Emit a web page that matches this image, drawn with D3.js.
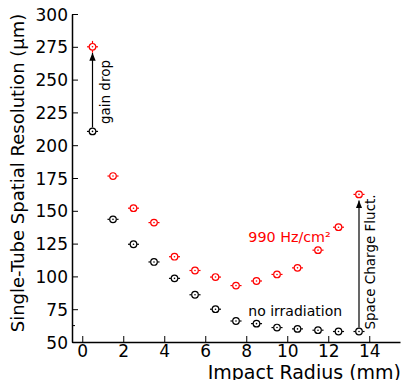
<!DOCTYPE html>
<html>
<head>
<meta charset="utf-8">
<script src="https://cdn.jsdelivr.net/npm/d3@7"></script>
<style>
  body{margin:0;background:#fff;}
  text{font-family:"DejaVu Sans",sans-serif;}
</style>
</head>
<body>
<svg id="chart" width="404" height="380"></svg>
<script>
// data
const radius = [0.5,1.5,2.5,3.5,4.5,5.5,6.5,7.5,8.5,9.5,10.5,11.5,12.5,13.5];
const noIrradiation = [210.5,143.5,124.5,111,98.5,86,75,66,64,61,60,59,58,58];
const irradiated = [275,176.5,152,141,115,104.5,99.5,93,96.5,101.5,106.5,120,137.5,162.5];
const yErrIrr = [4.5,1,1,1,1,1,1,1,1,1,1,1,1,1];
const xErr = 0.27;
const xTicks = [0,2,4,6,8,10,12,14];
const yTicks = [50,75,100,125,150,175,200,225,250,275,300];

const W = 404, H = 380;
const Margin = [14,38,4,72]; // top bottom right left

const SVG = d3.select("#chart");

const X = d3.scaleLinear().domain([-0.5,15.5]).range([Margin[3],W-Margin[2]]);
const Y = d3.scaleLinear().domain([50,300]).range([H-Margin[1],Margin[0]]);

// axes, ticks pointing inward
const xg = SVG.append("g")
  .attr("transform",`translate(0,${Y(50)})`)
  .call(d3.axisTop(X).tickValues(xTicks).tickSize(6).tickSizeOuter(0));
xg.selectAll(".tick text").remove();
xg.selectAll(".tick")
  .append("text")
  .attr("y",15)
  .attr("fill","#000")
  .attr("text-anchor","middle")
  .style("font-size","17px")
  .text(d=>d);

const yg = SVG.append("g")
  .attr("transform",`translate(${X(-0.5)},0)`)
  .call(d3.axisRight(Y).tickValues(yTicks).tickSize(6).tickSizeOuter(0));
yg.selectAll(".tick text").remove();
yg.selectAll(".tick")
  .append("text")
  .attr("x",-4)
  .attr("dy","0.36em")
  .attr("fill","#000")
  .attr("text-anchor","end")
  .style("font-size","17px")
  .text(d=>d);
// single minor tick seen in reference
yg.append("line")
  .attr("x1",0).attr("x2",3)
  .attr("y1",Y(62.5)).attr("y2",Y(62.5))
  .attr("stroke","#000");
SVG.selectAll(".domain").attr("stroke","#000").attr("stroke-width",1.5);

// axis titles
SVG.append("text")
  .attr("x",W-3)
  .attr("y",H-1)
  .attr("text-anchor","end")
  .style("font-size","19px")
  .text("Impact Radius (mm)");
SVG.append("text")
  .attr("transform",`translate(24,173) rotate(-90)`)
  .attr("text-anchor","middle")
  .style("font-size","18px")
  .text("Single-Tube Spatial Resolution (µm)");

// arrow marker
SVG.append("defs").append("marker")
  .attr("id","arr")
  .attr("viewBox","0 0 10 10")
  .attr("refX",10).attr("refY",5)
  .attr("markerWidth",8).attr("markerHeight",8)
  .attr("markerUnits","userSpaceOnUse")
  .attr("orient","auto")
  .append("path")
  .attr("d","M0,1 L10,5 L0,9 z")
  .attr("fill","#000");

function arrow(i){
  SVG.append("line")
    .attr("x1",X(radius[i])).attr("x2",X(radius[i]))
    .attr("y1",Y(noIrradiation[i])-4)
    .attr("y2",Y(irradiated[i])+6)
    .attr("stroke","#000")
    .attr("stroke-width",1.2)
    .attr("marker-end","url(#arr)");
}
arrow(0);
arrow(radius.length-1);

// point series
function series(vals,color,yerr){
  const g = SVG.append("g")
    .attr("stroke",color)
    .attr("fill","none")
    .selectAll("g")
    .data(vals)
    .join("g")
    .attr("transform",(d,i)=>`translate(${X(radius[i])},${Y(d)})`);
  g.append("line")
    .attr("x1",X(-xErr)-X(0)).attr("x2",-3.5)
    .attr("stroke-width",1.2);
  g.append("line")
    .attr("x1",3.5).attr("x2",X(xErr)-X(0))
    .attr("stroke-width",1.2);
  g.filter((d,i)=>yerr && yerr[i]>3)
    .each(function(d,i){
      const e = Y(d-yerr[i])-Y(d);
      d3.select(this).append("line").attr("y1",-e).attr("y2",-3.5).attr("stroke-width",1.2);
      d3.select(this).append("line").attr("y1",3.5).attr("y2",e).attr("stroke-width",1.2);
    });
  g.append("circle").attr("r",3.3).attr("stroke-width",1.2).attr("fill","#fff");
  g.append("circle").attr("r",0.8).attr("fill",color).attr("stroke","none");
}
series(noIrradiation,"#000",null);
series(irradiated,"#ff0000",yErrIrr);

// annotations
SVG.append("text")
  .attr("transform",`translate(${X(0.5)+17.5},${Y(240.5)}) rotate(-90)`)
  .attr("text-anchor","middle")
  .style("font-size","13.5px")
  .text("gain drop");
SVG.append("text")
  .attr("transform",`translate(${X(13.5)+16},${Y(111)}) rotate(-90)`)
  .attr("text-anchor","middle")
  .style("font-size","13.5px")
  .text("Space Charge Fluct.");
SVG.append("text")
  .attr("x",X(8.1))
  .attr("y",Y(126.5))
  .attr("fill","#ff0000")
  .style("font-size","14.3px")
  .text("990 Hz/cm²");
SVG.append("text")
  .attr("x",X(8.1))
  .attr("y",Y(70))
  .attr("fill","#000")
  .style("font-size","14px")
  .text("no irradiation");
</script>
</body>
</html>
